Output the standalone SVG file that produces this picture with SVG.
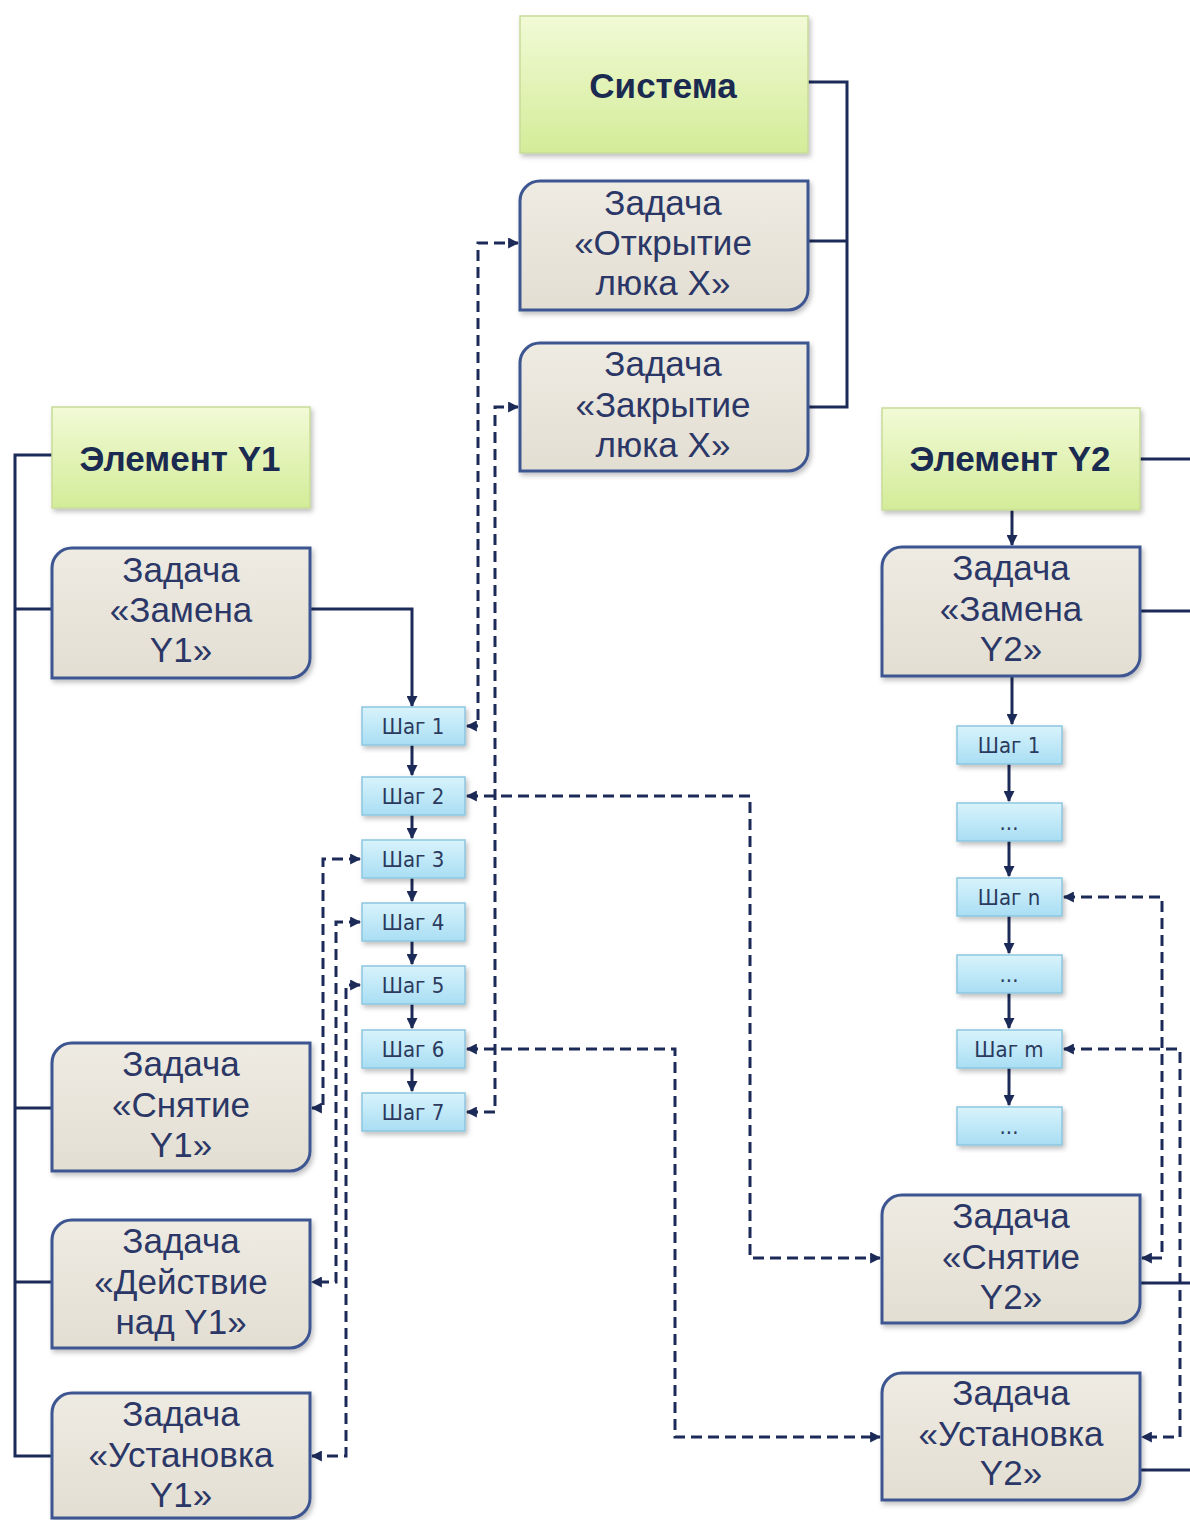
<svg xmlns="http://www.w3.org/2000/svg" width="1190" height="1520" viewBox="0 0 1190 1520">
<defs>
<linearGradient id="gGreen" x1="0" y1="0" x2="0" y2="1"><stop offset="0" stop-color="#f2fad6"/><stop offset="1" stop-color="#d3ec98"/></linearGradient>
<linearGradient id="gTask" x1="0" y1="0" x2="0" y2="1"><stop offset="0" stop-color="#eeebe3"/><stop offset="1" stop-color="#e3ded2"/></linearGradient>
<linearGradient id="gStep" x1="0" y1="0" x2="0" y2="1"><stop offset="0" stop-color="#d8f3fc"/><stop offset="1" stop-color="#a9def3"/></linearGradient>
<filter id="sh" x="-10%" y="-10%" width="130%" height="130%"><feDropShadow dx="2" dy="3" stdDeviation="2.5" flood-color="#000" flood-opacity="0.25"/></filter>
<marker id="ah" viewBox="0 0 10 10" refX="9" refY="5" markerWidth="11" markerHeight="11" markerUnits="userSpaceOnUse" orient="auto-start-reverse"><path d="M0,0 L10,5 L0,10 z" fill="#1c2a58"/></marker>
<style>
.green{fill:url(#gGreen);stroke:#c7dc98;stroke-width:1.5;filter:url(#sh)}
.task{fill:url(#gTask);stroke:#3d5691;stroke-width:3;filter:url(#sh)}
.step{fill:url(#gStep);stroke:#8cc6df;stroke-width:1.5;filter:url(#sh)}
.gt{font-family:"Liberation Sans",Arial,sans-serif;font-weight:bold;font-size:35px;fill:#1a2a50;text-anchor:middle}
.tt{font-family:"Liberation Sans",Arial,sans-serif;font-size:35px;fill:#2b3766;text-anchor:middle}
.st{font-family:"Liberation Sans Narrow","DejaVu Sans Condensed","Liberation Sans",sans-serif;font-size:22px;fill:#2b3a5e;text-anchor:middle}
.sol{fill:none;stroke:#1c2a58;stroke-width:3}
.dash{fill:none;stroke:#1c2a58;stroke-width:3;stroke-dasharray:11 6}
</style>
</defs>
<rect width="1190" height="1520" fill="#ffffff"/>

<g id="connectors">
<path class="sol" d="M808,82 H847 V407 H808 M808,241 H847"/>
<path class="sol" d="M52,455 H15 V1456 H52 M15,609 H52 M15,1108 H52 M15,1282 H52"/>
<path class="sol" d="M310,609 H412 V706" marker-end="url(#ah)"/>
<path class="sol" d="M412,745 V775" marker-end="url(#ah)"/>
<path class="sol" d="M412,815 V838" marker-end="url(#ah)"/>
<path class="sol" d="M412,878 V901" marker-end="url(#ah)"/>
<path class="sol" d="M412,941 V964" marker-end="url(#ah)"/>
<path class="sol" d="M412,1004 V1028" marker-end="url(#ah)"/>
<path class="sol" d="M412,1068 V1091" marker-end="url(#ah)"/>
<path class="sol" d="M1140,459 H1190 M1140,611 H1190 M1140,1283 H1190 M1140,1470 H1190"/>
<path class="sol" d="M1012,510 V545" marker-end="url(#ah)"/>
<path class="sol" d="M1012,676 V724" marker-end="url(#ah)"/>
<path class="sol" d="M1009,764 V801" marker-end="url(#ah)"/>
<path class="sol" d="M1009,841 V876" marker-end="url(#ah)"/>
<path class="sol" d="M1009,916 V953" marker-end="url(#ah)"/>
<path class="sol" d="M1009,993 V1028" marker-end="url(#ah)"/>
<path class="sol" d="M1009,1068 V1105" marker-end="url(#ah)"/>
<path class="dash" d="M467,726 H478 V243 H518" marker-start="url(#ah)" marker-end="url(#ah)"/>
<path class="dash" d="M467,1112 H495 V407 H518" marker-start="url(#ah)" marker-end="url(#ah)"/>
<path class="dash" d="M467,796 H750 V1258 H880" marker-start="url(#ah)" marker-end="url(#ah)"/>
<path class="dash" d="M467,1049 H675 V1437 H880" marker-start="url(#ah)" marker-end="url(#ah)"/>
<path class="dash" d="M360,859 H323 V1108 H312" marker-start="url(#ah)" marker-end="url(#ah)"/>
<path class="dash" d="M360,922 H336 V1282 H312" marker-start="url(#ah)" marker-end="url(#ah)"/>
<path class="dash" d="M360,985 H346 V1456 H312" marker-start="url(#ah)" marker-end="url(#ah)"/>
<path class="dash" d="M1064,897 H1162 V1258 H1142" marker-start="url(#ah)" marker-end="url(#ah)"/>
<path class="dash" d="M1064,1049 H1180 V1437 H1142" marker-start="url(#ah)" marker-end="url(#ah)"/>
</g>

<g id="sistema"><rect class="green" x="520" y="16" width="288" height="137"/><text class="gt" x="663" y="98">Система</text></g>
<g id="otkrytie"><path class="task" d="M540,181 H808 V290 A20,20 0 0 1 788,310 H520 V201 A20,20 0 0 1 540,181 Z"/>
<text class="tt" x="663" y="215">Задача</text><text class="tt" x="663" y="255">«Открытие</text><text class="tt" x="663" y="295">люка X»</text></g>
<g id="zakrytie"><path class="task" d="M540,343 H808 V451 A20,20 0 0 1 788,471 H520 V363 A20,20 0 0 1 540,343 Z"/>
<text class="tt" x="663" y="376">Задача</text><text class="tt" x="663" y="417">«Закрытие</text><text class="tt" x="663" y="457">люка X»</text></g>

<g id="elementY1"><rect class="green" x="52" y="407" width="258" height="101"/><text class="gt" x="180" y="471">Элемент Y1</text></g>
<g id="zamenaY1"><path class="task" d="M72,548 H310 V658 A20,20 0 0 1 290,678 H52 V568 A20,20 0 0 1 72,548 Z"/>
<text class="tt" x="181" y="582">Задача</text><text class="tt" x="181" y="622">«Замена</text><text class="tt" x="181" y="662">Y1»</text></g>
<g id="snyatieY1"><path class="task" d="M72,1043 H310 V1151 A20,20 0 0 1 290,1171 H52 V1063 A20,20 0 0 1 72,1043 Z"/>
<text class="tt" x="181" y="1076">Задача</text><text class="tt" x="181" y="1117">«Снятие</text><text class="tt" x="181" y="1157">Y1»</text></g>
<g id="deystvieY1"><path class="task" d="M72,1220 H310 V1328 A20,20 0 0 1 290,1348 H52 V1240 A20,20 0 0 1 72,1220 Z"/>
<text class="tt" x="181" y="1253">Задача</text><text class="tt" x="181" y="1294">«Действие</text><text class="tt" x="181" y="1334">над Y1»</text></g>
<g id="ustanovkaY1"><path class="task" d="M72,1393 H310 V1498 A20,20 0 0 1 290,1518 H52 V1413 A20,20 0 0 1 72,1393 Z"/>
<text class="tt" x="181" y="1426">Задача</text><text class="tt" x="181" y="1467">«Установка</text><text class="tt" x="181" y="1507">Y1»</text></g>

<g id="y1steps">
<g id="y1s1"><rect class="step" x="362" y="707" width="103" height="38"/><text class="st" x="413" y="734">Шаг 1</text></g>
<g id="y1s2"><rect class="step" x="362" y="777" width="103" height="38"/><text class="st" x="413" y="804">Шаг 2</text></g>
<g id="y1s3"><rect class="step" x="362" y="840" width="103" height="38"/><text class="st" x="413" y="867">Шаг 3</text></g>
<g id="y1s4"><rect class="step" x="362" y="903" width="103" height="38"/><text class="st" x="413" y="930">Шаг 4</text></g>
<g id="y1s5"><rect class="step" x="362" y="966" width="103" height="38"/><text class="st" x="413" y="993">Шаг 5</text></g>
<g id="y1s6"><rect class="step" x="362" y="1030" width="103" height="38"/><text class="st" x="413" y="1057">Шаг 6</text></g>
<g id="y1s7"><rect class="step" x="362" y="1093" width="103" height="38"/><text class="st" x="413" y="1120">Шаг 7</text></g>
</g>

<g id="elementY2"><rect class="green" x="882" y="408" width="258" height="102"/><text class="gt" x="1010" y="471">Элемент Y2</text></g>
<g id="zamenaY2"><path class="task" d="M902,547 H1140 V656 A20,20 0 0 1 1120,676 H882 V567 A20,20 0 0 1 902,547 Z"/>
<text class="tt" x="1011" y="580">Задача</text><text class="tt" x="1011" y="621">«Замена</text><text class="tt" x="1011" y="661">Y2»</text></g>
<g id="snyatieY2"><path class="task" d="M902,1195 H1140 V1303 A20,20 0 0 1 1120,1323 H882 V1215 A20,20 0 0 1 902,1195 Z"/>
<text class="tt" x="1011" y="1228">Задача</text><text class="tt" x="1011" y="1269">«Снятие</text><text class="tt" x="1011" y="1309">Y2»</text></g>
<g id="ustanovkaY2"><path class="task" d="M902,1373 H1140 V1480 A20,20 0 0 1 1120,1500 H882 V1393 A20,20 0 0 1 902,1373 Z"/>
<text class="tt" x="1011" y="1405">Задача</text><text class="tt" x="1011" y="1446">«Установка</text><text class="tt" x="1011" y="1485">Y2»</text></g>

<g id="y2steps">
<g id="y2s1"><rect class="step" x="957" y="726" width="105" height="38"/><text class="st" x="1009" y="753">Шаг 1</text></g>
<g id="y2s2"><rect class="step" x="957" y="803" width="105" height="38"/><text class="st" x="1009" y="830">...</text></g>
<g id="y2s3"><rect class="step" x="957" y="878" width="105" height="38"/><text class="st" x="1009" y="905">Шаг n</text></g>
<g id="y2s4"><rect class="step" x="957" y="955" width="105" height="38"/><text class="st" x="1009" y="982">...</text></g>
<g id="y2s5"><rect class="step" x="957" y="1030" width="105" height="38"/><text class="st" x="1009" y="1057">Шаг m</text></g>
<g id="y2s6"><rect class="step" x="957" y="1107" width="105" height="38"/><text class="st" x="1009" y="1134">...</text></g>
</g>
</svg>
